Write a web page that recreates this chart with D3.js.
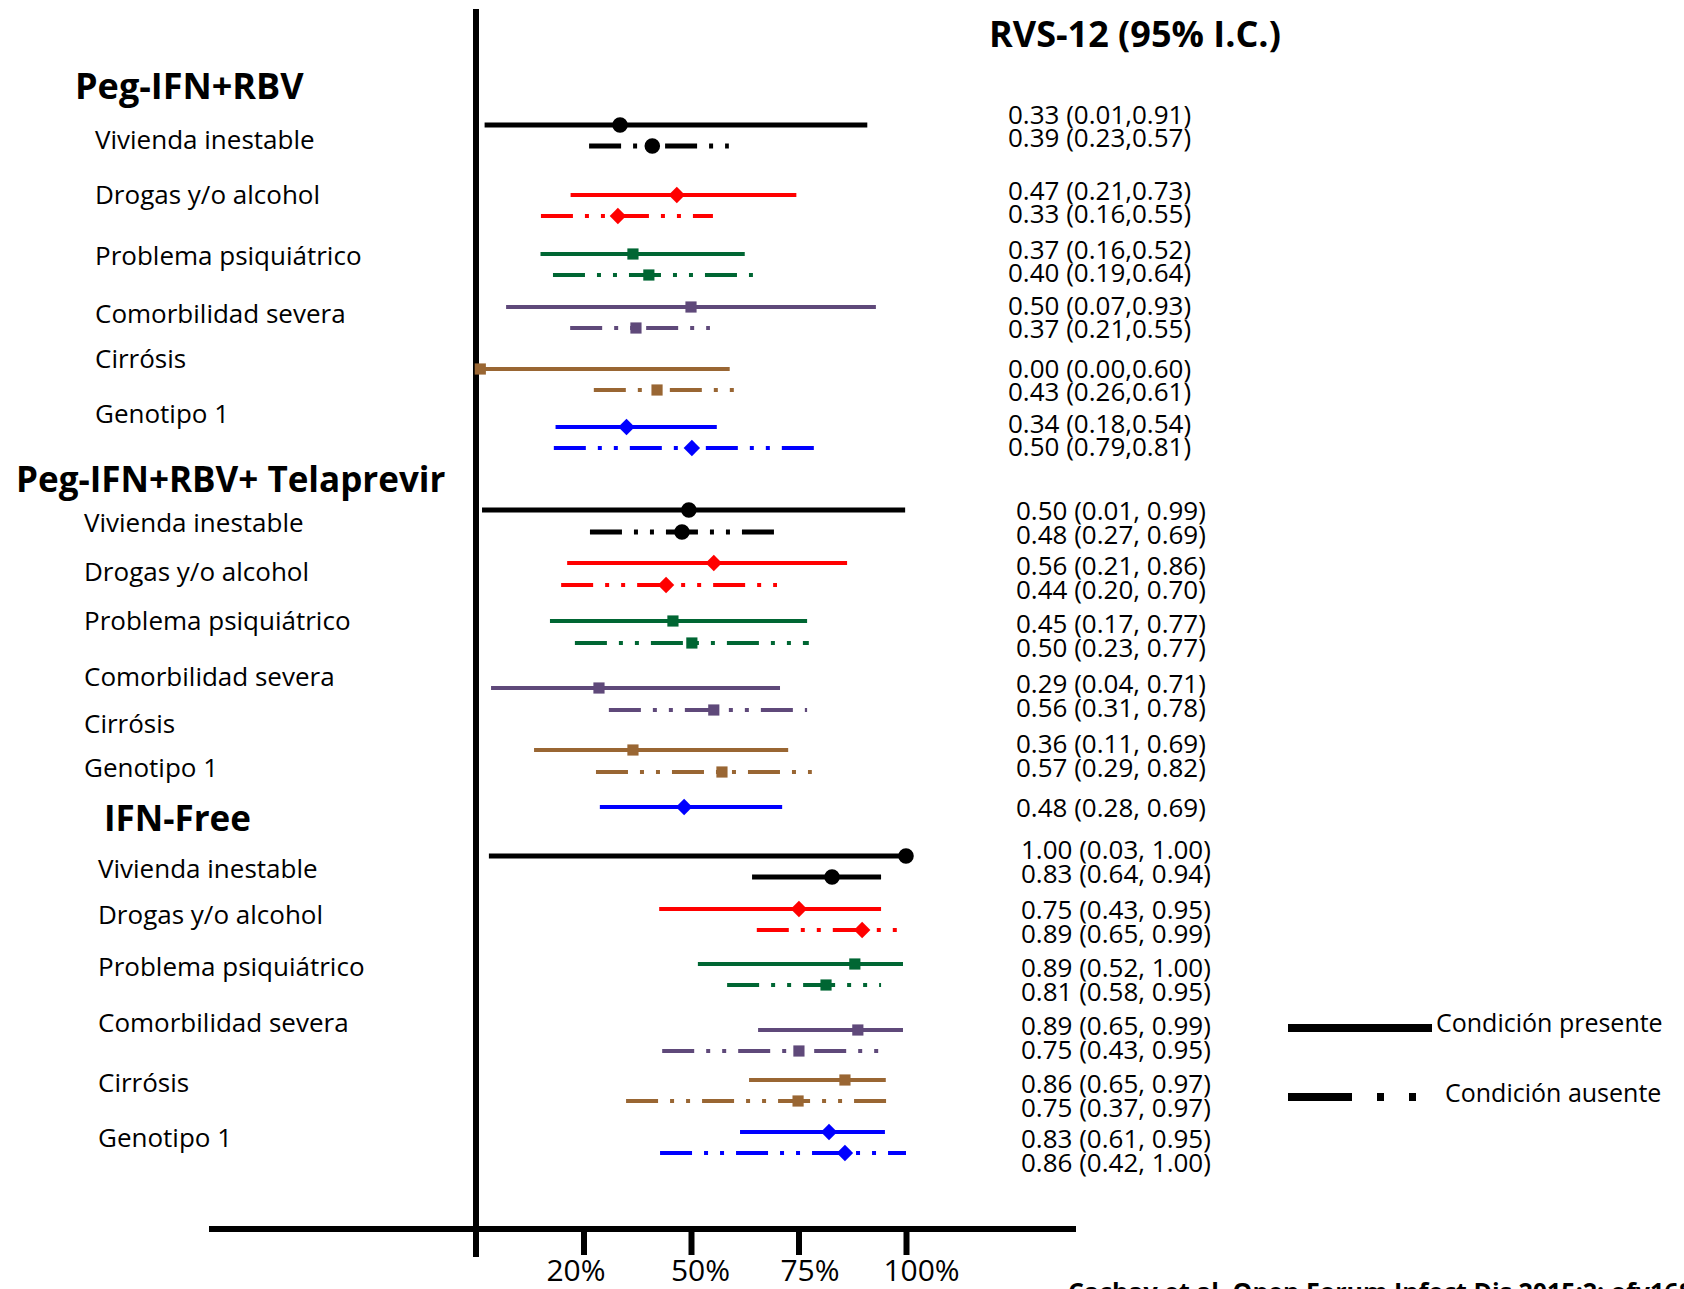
<!DOCTYPE html>
<html>
<head>
<meta charset="utf-8">
<script src="https://cdn.jsdelivr.net/npm/d3@7"></script>
<style>
  body { margin: 0; background: #fff; }
  text { font-family: "Open Sans", "Noto Sans", sans-serif; fill: #000; }
</style>
</head>
<body>
<svg id="chart"></svg>
<script>
// categories
const regimens = ["Peg-IFN+RBV", "Peg-IFN+RBV+ Telaprevir", "IFN-Free"];
const conditions = ["Vivienda inestable", "Drogas y/o alcohol", "Problema psiquiátrico",
                    "Comorbilidad severa", "Cirrósis", "Genotipo 1"];

// [estimate, lower, upper] as drawn in the plot
const pegPresent  = [[0.335, 0.02, 0.91], [0.467, 0.22, 0.745], [0.365, 0.15, 0.625],
                     [0.50, 0.07, 0.93], [0.01, 0.0, 0.59], [0.35, 0.185, 0.56]];
const pegAbsent   = [[0.41, 0.263, 0.588], [0.33, 0.151, 0.551], [0.402, 0.179, 0.644],
                     [0.372, 0.219, 0.544], [0.421, 0.274, 0.60], [0.502, 0.181, 0.786]];
const telPresent  = [[0.495, 0.014, 0.998], [0.553, 0.212, 0.863], [0.458, 0.172, 0.77],
                     [0.286, 0.035, 0.707], [0.365, 0.135, 0.726], [0.484, 0.288, 0.712]];
const telAbsent   = [[0.479, 0.265, 0.695], [0.442, 0.198, 0.70], [0.502, 0.23, 0.774],
                     [0.553, 0.309, 0.77], [0.572, 0.279, 0.781], null];
const freePresent = [[1.0, 0.03, 1.0], [0.751, 0.426, 0.942], [0.881, 0.516, 0.993],
                     [0.888, 0.656, 0.993], [0.858, 0.635, 0.953], [0.821, 0.614, 0.951]];
const freeAbsent  = [[0.828, 0.642, 0.942], [0.898, 0.653, 0.981], [0.814, 0.584, 0.942],
                     [0.751, 0.433, 0.937], [0.749, 0.349, 0.956], [0.858, 0.428, 1.0]];

// printed values (RVS-12, 95% I.C.)
const pegTextPresent  = ["0.33 (0.01,0.91)", "0.47 (0.21,0.73)", "0.37 (0.16,0.52)",
                         "0.50 (0.07,0.93)", "0.00 (0.00,0.60)", "0.34 (0.18,0.54)"];
const pegTextAbsent   = ["0.39 (0.23,0.57)", "0.33 (0.16,0.55)", "0.40 (0.19,0.64)",
                         "0.37 (0.21,0.55)", "0.43 (0.26,0.61)", "0.50 (0.79,0.81)"];
const telTextPresent  = ["0.50 (0.01, 0.99)", "0.56 (0.21, 0.86)", "0.45 (0.17, 0.77)",
                         "0.29 (0.04, 0.71)", "0.36 (0.11, 0.69)", "0.48 (0.28, 0.69)"];
const telTextAbsent   = ["0.48 (0.27, 0.69)", "0.44 (0.20, 0.70)", "0.50 (0.23, 0.77)",
                         "0.56 (0.31, 0.78)", "0.57 (0.29, 0.82)", null];
const freeTextPresent = ["1.00 (0.03, 1.00)", "0.75 (0.43, 0.95)", "0.89 (0.52, 1.00)",
                         "0.89 (0.65, 0.99)", "0.86 (0.65, 0.97)", "0.83 (0.61, 0.95)"];
const freeTextAbsent  = ["0.83 (0.64, 0.94)", "0.89 (0.65, 0.99)", "0.81 (0.58, 0.95)",
                         "0.75 (0.43, 0.95)", "0.75 (0.37, 0.97)", "0.86 (0.42, 1.00)"];

// x axis ticks (the first tick label reads 20% in the original)
const tickValues = [0.25, 0.5, 0.75, 1.0];
const tickLabels = ["20%", "50%", "75%", "100%"];

const legendLabels = ["Condición presente", "Condición ausente"];

const present = [pegPresent, telPresent, freePresent];
const absent = [pegAbsent, telAbsent, freeAbsent];
const textPresent = [pegTextPresent, telTextPresent, freeTextPresent];
const textAbsent = [pegTextAbsent, telTextAbsent, freeTextAbsent];

// styles per condition
const colors = ["#000000", "#ff0000", "#006633", "#5f497a", "#996633", "#0000ff"];
const shapes = ["circle", "diamond", "square", "square", "square", "diamond"];
const dash = "32 12 4 12 4 12";

// layout per regimen block: rows are not evenly spaced in the original slide
const blocks = [
  { hx: 75, hy: 99, hs: 36, labX: 95, numX: 1008, absDy: 21, numDy: 23,
    rows: [125, 195, 254, 307, 369, 427], labs: [149, 204, 265, 323, 368, 423], nums: [124, 200, 259, 315, 378, 433] },
  { hx: 16, hy: 492, hs: 35, labX: 84, numX: 1016, absDy: 22, numDy: 24,
    rows: [510, 563, 621, 688, 750, 807], labs: [532, 581, 630, 686, 733, 777], nums: [520, 575, 633, 693, 753, 817] },
  { hx: 104, hy: 831, hs: 35, labX: 98, numX: 1021, absDy: 21, numDy: 24,
    rows: [856, 909, 964, 1030, 1080, 1132], labs: [878, 924, 976, 1032, 1092, 1147], nums: [859, 919, 977, 1035, 1093, 1148] }
];

const W = 1684, H = 1289;
const svg = d3.select("#chart").attr("width", W).attr("height", H);
svg.append("rect").attr("width", W).attr("height", H).attr("fill", "#fff");

const x = d3.scaleLinear().domain([0, 1]).range([476, 906]);
const axisY = 1229;

// axes
svg.append("line")
  .attr("x1", x(0)).attr("x2", x(0)).attr("y1", 9).attr("y2", 1257)
  .attr("stroke", "#000").attr("stroke-width", 6);
svg.append("line")
  .attr("x1", 209).attr("x2", 1076).attr("y1", axisY).attr("y2", axisY)
  .attr("stroke", "#000").attr("stroke-width", 6);

const labelShift = [-8, 9, 11, 15];
const xAxis = svg.append("g")
  .attr("transform", `translate(0,${axisY})`)
  .call(d3.axisBottom(x).tickValues(tickValues).tickFormat((d, i) => tickLabels[i]).tickSize(26).tickPadding(3));
xAxis.select(".domain").remove();
xAxis.selectAll(".tick line").attr("stroke", "#000").attr("stroke-width", 6);
xAxis.selectAll(".tick text")
  .attr("font-family", "Open Sans").attr("font-size", 30).attr("fill", "#000")
  .attr("dx", (d, i) => labelShift[i]).attr("dy", "0.76em");

function marker(shape) {
  if (shape === "circle") return d3.symbol(d3.symbolCircle, 190)();
  return d3.symbol(d3.symbolSquare, shape === "diamond" ? 135 : 125)();
}

// header over the value column
svg.append("text")
  .attr("x", 989).attr("y", 47)
  .attr("font-size", 36).attr("font-weight", 700)
  .text("RVS-12 (95% I.C.)");

blocks.forEach((b, g) => {
  const y = d3.scaleOrdinal().domain(conditions).range(b.rows);
  const yLab = d3.scaleOrdinal().domain(conditions).range(b.labs);
  const yNum = d3.scaleOrdinal().domain(conditions).range(b.nums);

  svg.append("text")
    .attr("x", b.hx).attr("y", b.hy)
    .attr("font-size", b.hs).attr("font-weight", 700)
    .text(regimens[g]);

  const grp = svg.append("g");

  grp.selectAll(".lab").data(conditions).enter().append("text")
    .attr("x", b.labX).attr("y", d => yLab(d))
    .attr("font-size", 26)
    .text(d => d);

  const rows = [];
  conditions.forEach((c, i) => {
    rows.push({ c, i, v: present[g][i], t: textPresent[g][i], yy: y(c), ny: yNum(c), dashed: false });
    if (absent[g][i]) {
      // IFN-Free "Vivienda inestable" absent line is drawn solid in the original
      const solid = g === 2 && i === 0;
      rows.push({ c, i, v: absent[g][i], t: textAbsent[g][i], yy: y(c) + b.absDy, ny: yNum(c) + b.numDy, dashed: !solid });
    }
  });

  grp.selectAll(".ci").data(rows).enter().append("line")
    .attr("x1", d => x(d.v[1])).attr("x2", d => x(d.v[2]))
    .attr("y1", d => d.yy).attr("y2", d => d.yy)
    .attr("stroke", d => colors[d.i]).attr("stroke-width", d => d.i === 0 ? 5 : 4)
    .attr("stroke-dasharray", d => d.dashed ? dash : null);

  grp.selectAll(".pt").data(rows).enter().append("path")
    .attr("d", d => marker(shapes[d.i]))
    .attr("transform", d => `translate(${x(d.v[0])},${d.yy})` + (shapes[d.i] === "diamond" ? " rotate(45)" : ""))
    .attr("fill", d => colors[d.i]);

  grp.selectAll(".num").data(rows.filter(d => d.t)).enter().append("text")
    .attr("x", b.numX).attr("y", d => d.ny)
    .attr("font-size", 26)
    .text(d => d.t);
});

// legend
const leg = svg.append("g");
leg.append("line").attr("x1", 1288).attr("x2", 1432).attr("y1", 1028).attr("y2", 1028)
  .attr("stroke", "#000").attr("stroke-width", 8);
leg.append("line").attr("x1", 1288).attr("x2", 1416).attr("y1", 1097).attr("y2", 1097)
  .attr("stroke", "#000").attr("stroke-width", 8).attr("stroke-dasharray", "64 25 7 25 7 25");
leg.append("text").attr("x", 1436).attr("y", 1032).attr("font-size", 25).text(legendLabels[0]);
leg.append("text").attr("x", 1445).attr("y", 1102).attr("font-size", 25).text(legendLabels[1]);

// source line, cut by the bottom edge as in the original
svg.append("text")
  .attr("x", 1068).attr("y", 1301)
  .attr("font-size", 25).attr("font-weight", 700)
  .text("Cachay et al. Open Forum Infect Dis 2015;2: ofv168");
</script>
</body>
</html>
